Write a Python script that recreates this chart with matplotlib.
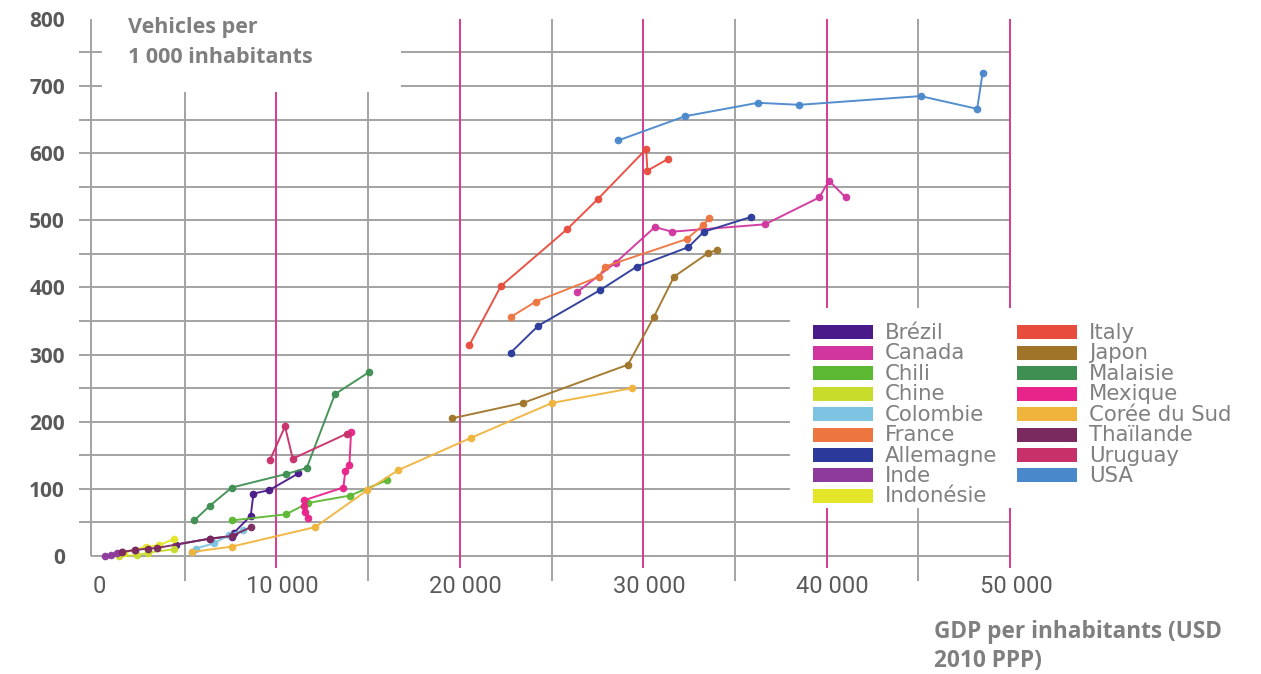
import numpy as np
import matplotlib
matplotlib.use("Agg")
import matplotlib.pyplot as plt
from matplotlib.patches import Rectangle
from matplotlib.transforms import ScaledTranslation

# ---------------- data (GDP per inhabitant USD 2010 PPP, vehicles per 1000 inhabitants)
countries = ["Brézil", "Canada", "Chili", "Chine", "Colombie", "France", "Allemagne",
             "Inde", "Indonésie", "Italy", "Japon", "Malaisie", "Mexique",
             "Corée du Sud", "Thaïlande", "Uruguay", "USA"]
colors = ["#4b1a8a", "#d0369e", "#5cb833", "#c8dc2c", "#7cc4e2", "#ec7540", "#2b3a9a",
          "#8e3a9c", "#e4e62a", "#e84c3d", "#a0752a", "#3f8f52", "#e8248a",
          "#f0b43c", "#7a2a5e", "#c8306a", "#4a88cc"]

bresil_x = [4500, 6400, 7600, 7700, 8600, 8750, 9600, 11200]
bresil_y = [17, 26, 29, 35, 60, 93, 98, 123]
canada_x = [26400, 28500, 30640, 31550, 36640, 39600, 40130, 41040]
canada_y = [393, 437, 490, 483, 494, 534, 559, 534]
chili_x = [7570, 10510, 11740, 14010, 16050]
chili_y = [53, 62, 79, 90, 113]
chine_x = [1400, 2400, 3000, 4400]
chine_y = [0, 1, 5, 10]
colombie_x = [5400, 5600, 6600, 7400, 8200]
colombie_y = [6, 11, 19, 31, 39]
france_x = [22780, 24150, 27600, 27900, 32370, 33270, 33600]
france_y = [356, 379, 416, 431, 472, 493, 503]
allemagne_x = [22780, 24280, 27650, 29650, 32460, 33310, 35880]
allemagne_y = [303, 343, 396, 431, 460, 483, 505]
inde_x = [650, 1000, 1300, 1600, 2300]
inde_y = [0, 2, 4, 6, 9]
indonesie_x = [1700, 2900, 3600, 4400]
indonesie_y = [5, 14, 16, 25]
italy_x = [20520, 22240, 25860, 27540, 30160, 30230, 31330]
italy_y = [314, 402, 487, 532, 606, 574, 591]
japon_x = [19570, 23450, 29170, 30580, 31680, 33530, 34020]
japon_y = [205, 228, 285, 356, 416, 451, 456]
malaisie_x = [5520, 6380, 7570, 10520, 11650, 13190, 15060]
malaisie_y = [53, 75, 102, 122, 131, 241, 274]
mexique_x = [11740, 11560, 11510, 11510, 13650, 13760, 13980, 14070]
mexique_y = [57, 66, 74, 83, 102, 127, 135, 184]
coree_x = [5390, 7570, 12110, 14950, 16650, 20610, 25030, 29390]
coree_y = [6, 14, 43, 98, 128, 176, 228, 250]
thailande_x = [1600, 2300, 3000, 3500, 6400, 7600, 8600]
thailande_y = [6, 9, 11, 12, 26, 30, 43]
uruguay_x = [9650, 10470, 10890, 13830]
uruguay_y = [143, 193, 145, 182]
usa_x = [28640, 32280, 36260, 38510, 45120, 48210, 48510]
usa_y = [619, 655, 675, 672, 685, 666, 720]

series_x = [bresil_x, canada_x, chili_x, chine_x, colombie_x, france_x, allemagne_x,
            inde_x, indonesie_x, italy_x, japon_x, malaisie_x, mexique_x,
            coree_x, thailande_x, uruguay_x, usa_x]
series_y = [bresil_y, canada_y, chili_y, chine_y, colombie_y, france_y, allemagne_y,
            inde_y, indonesie_y, italy_y, japon_y, malaisie_y, mexique_y,
            coree_y, thailande_y, uruguay_y, usa_y]

y_ticks = [0, 100, 200, 300, 400, 500, 600, 700, 800]
x_ticks = [0, 10000, 20000, 30000, 40000, 50000]
x_tick_labels = ["0", "10 000", "20 000", "30 000", "40 000", "50 000"]

# ---------------- figure
W, H = 1261, 674
fig = plt.figure(figsize=(W / 100, H / 100), dpi=100)
ax = fig.add_axes([0.059207, 0.163116, 0.749017, 0.808872])
ax.set_xlim(-1000, 50500)
ax.set_ylim(-12, 800)
for s in ax.spines.values():
    s.set_visible(False)

GRAY = "#a3a3a3"
MAG = "#d63c8c"
# grid
ax.hlines(np.arange(50, 800, 50), -780, 50000, color=GRAY, lw=1.4, zorder=1, clip_on=False)
ax.hlines(0, -100, 50000, color=GRAY, lw=1.4, zorder=1, clip_on=False)
ax.vlines(-100, 0, 800, color=GRAY, lw=1.4, zorder=1, clip_on=False)
ax.vlines([5000, 15000, 25000, 35000, 45000], -37, 800, color=GRAY, lw=1.4, zorder=1, clip_on=False)
ax.vlines([10000, 20000, 30000, 40000, 50000], -18, 800, color=MAG, lw=1.4, zorder=1, clip_on=False)

# data
for xs, ys, c in zip(series_x, series_y, colors):
    ax.plot(xs, ys, color=c, lw=1.4, marker="o", ms=4.5, zorder=3, alpha=0.95, clip_on=False)

# white boxes (title area and legend area)
ax.add_patch(Rectangle((500, 691), 16300, 140, facecolor="white", edgecolor="none",
                       zorder=5, clip_on=False))
ax.add_patch(Rectangle((38000, 71.5), 25000, 297.5, facecolor="white", edgecolor="none",
                       zorder=5, clip_on=False))

# ticks
ax.set_yticks(y_ticks)
ax.set_yticklabels([str(v) for v in y_ticks], fontfamily="Open Sans", fontweight="bold",
                   fontsize=15, color="#595959")
ax.set_xticks(x_ticks)
ax.set_xticklabels(x_tick_labels, fontfamily="Roboto", fontsize=17, color="#5a5a5a")
ax.tick_params(axis="both", length=0)
ax.tick_params(axis="y", pad=7)
ax.tick_params(axis="x", pad=8)
for lab in ax.get_xticklabels():
    lab.set_transform(lab.get_transform() + ScaledTranslation(6 / 100, 0, fig.dpi_scale_trans))

# axis titles
def ftext(px, py, s, **kw):
    fig.text(px / W, 1 - py / H, s, va="baseline", ha="left", **kw)

tstyle = dict(fontfamily="Open Sans", fontweight="bold", fontsize=15.5, color="#7f7f7f")
ftext(128, 33, "Vehicles per", **tstyle)
ftext(128, 63, "1 000 inhabitants", **tstyle)
bstyle = dict(tstyle, fontsize=16.3)
ftext(934, 638, "GDP per inhabitants (USD", **bstyle)
ftext(934, 667, "2010 PPP)", **bstyle)

# legend (two columns of colour swatches)
n1 = 9
for i, (name, c) in enumerate(zip(countries, colors)):
    col = 0 if i < n1 else 1
    row = i if i < n1 else i - n1
    cy = 332.3 + row * 20.45
    x0 = 813 if col == 0 else 1017
    fig.patches.append(Rectangle((x0 / W, 1 - (cy + 7) / H), 60 / W, 14 / H,
                                 transform=fig.transFigure, facecolor=c, edgecolor="none",
                                 zorder=6))
    ftext(x0 + 72, cy + 6.5, name, fontfamily="DejaVu Sans", fontsize=15.3, color="#808080",
          zorder=7)

fig.savefig("out.png", dpi=100)
